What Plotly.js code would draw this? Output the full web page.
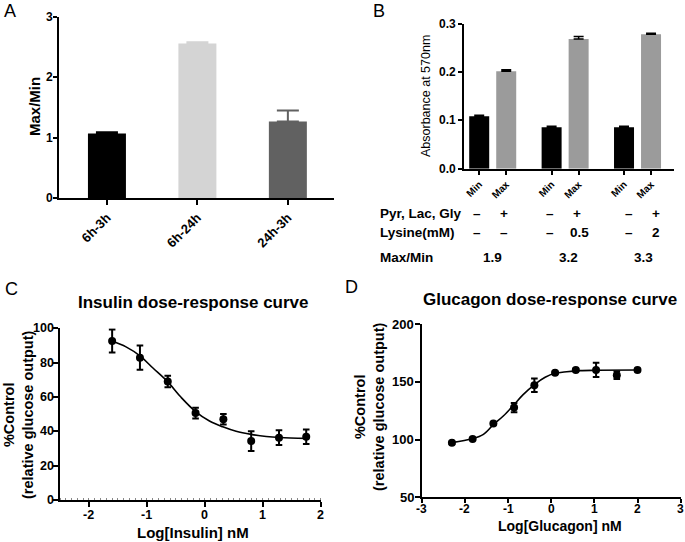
<!DOCTYPE html>
<html>
<head>
<meta charset="utf-8">
<script src="https://cdn.plot.ly/plotly-3.0.1.min.js"></script>
<style>
  html, body { margin: 0; padding: 0; background: #fff; }
  #chart { width: 685px; height: 542px; }
</style>
</head>
<body>
<div id="chart"></div>
<script>
// panel A: Max/Min ratio per time pair
var groupsA = ['6h-3h', '6h-24h', '24h-3h'];
var ratioA = [1.07, 2.56, 1.27];
var ratioErrA = [0.02, 0.02, 0.18];
var colorsA = ['#000000', '#d4d4d4', '#616161'];

// panel B: absorbance at 570nm, Min / Max per condition
var barLabelsB = ['Min', 'Max'];
var minAbs = [0.109, 0.086, 0.086];
var minErr = [0.002, 0.002, 0.002];
var maxAbs = [0.202, 0.269, 0.279];
var maxErr = [0.003, 0.005, 0.002];

// table under panel B
var rowLabels = ['Pyr, Lac, Gly', 'Lysine(mM)', 'Max/Min'];
var pyrRow = ['–', '+', '–', '+', '–', '+'];
var lysRow = ['–', '–', '–', '0.5', '–', '2'];
var ratioRow = ['1.9', '3.2', '3.3'];

// panel C: insulin dose-response
var insulinX = [-1.6, -1.12, -0.64, -0.16, 0.32, 0.8, 1.28, 1.75];
var insulinY = [92.6, 82.9, 69.0, 50.6, 47.0, 34.3, 36.3, 36.8];
var insulinErr = [6.7, 7.1, 3.4, 3.1, 3.1, 5.8, 4.3, 4.2];
var insulinFitX = [-1.6, -1.36, -1.12, -0.9, -0.64, -0.41, -0.16, 0.08, 0.31, 0.54, 0.8, 1.06, 1.3, 1.76];
var insulinFitY = [92.6, 89.2, 84.0, 77.0, 68.8, 59.8, 51.5, 46.0, 42.6, 40.0, 38.2, 37.0, 36.4, 35.9];

// panel D: glucagon dose-response
var glucagonX = [-2.3, -1.82, -1.34, -0.86, -0.39, 0.09, 0.57, 1.04, 1.52, 2.0];
var glucagonY = [97.2, 100.6, 114.0, 127.8, 147.2, 157.9, 160.4, 160.4, 155.8, 160.4];
var glucagonErr = [1, 1, 1, 4, 5.8, 1, 1, 6.2, 3.2, 1];
var glucagonFitX = [-2.3, -1.83, -1.57, -1.34, -1.11, -0.88, -0.65, -0.38, -0.14, 0.09, 0.36, 0.67, 1.05, 2.0];
var glucagonFitY = [97.4, 100.8, 104.6, 113.0, 120.5, 129.5, 139.0, 148.0, 154.1, 157.5, 158.9, 159.8, 160.1, 160.4];

// tick values shown on each axis
var ticksA = [0, 1, 2, 3];
var ticksB = [0, 0.1, 0.2, 0.3];
var ticksCx = [-2, -1, 0, 1, 2];
var ticksCy = [0, 20, 40, 60, 80, 100];
var ticksDx = [-3, -2, -1, 0, 1, 2, 3];
var ticksDy = [50, 100, 150, 200];

var W = 685, H = 542;
var FONT = 'Liberation Sans, Arial, Helvetica, sans-serif';

function px(x) { return x / W; }
function py(y) { return 1 - y / H; }
function bold(list) {
    return list.map(function(v) { return '<b>' + v + '</b>'; });
}

function axis(dom, range, extra) {
    var a = {
        domain: dom,
        range: range,
        showline: true,
        linecolor: '#000',
        linewidth: 2,
        ticks: 'outside',
        ticklen: 5,
        tickwidth: 2,
        tickcolor: '#000',
        showgrid: false,
        zeroline: false,
        fixedrange: true,
        showticklabels: false
    };
    return Object.assign(a, extra);
}

var data = [];

// A bars
groupsA.forEach(function(g, i) {
    data.push({
        type: 'bar', xaxis: 'x', yaxis: 'y',
        x: [g], y: [ratioA[i]], width: 0.42,
        marker: { color: colorsA[i] },
        error_y: { type: 'data', symmetric: false, array: [ratioErrA[i]], arrayminus: [0],
                   color: colorsA[i], thickness: 2, width: 11 }
    });
});

// B bars, pairs inside groups
var groupStep = 2.68;
var minPos = [], maxPos = [], tickPos = [], tickTxt = [];
for (var g = 0; g < minAbs.length; g++) {
    minPos.push(g * groupStep);
    maxPos.push(g * groupStep + 1);
    tickPos.push(g * groupStep, g * groupStep + 1);
    tickTxt.push(barLabelsB[0], barLabelsB[1]);
}
data.push({
    type: 'bar', xaxis: 'x2', yaxis: 'y2',
    x: minPos, y: minAbs, width: 0.74,
    marker: { color: '#000000' },
    error_y: { type: 'data', symmetric: false, array: minErr, arrayminus: [0, 0, 0],
               color: '#000', thickness: 1.5, width: 5 }
});
data.push({
    type: 'bar', xaxis: 'x2', yaxis: 'y2',
    x: maxPos, y: maxAbs, width: 0.74,
    marker: { color: '#9b9b9b' },
    error_y: { type: 'data', symmetric: false, array: maxErr, arrayminus: [0, 0, 0],
               color: '#000', thickness: 1.5, width: 5 }
});

// C
data.push({
    type: 'scatter', mode: 'lines', xaxis: 'x3', yaxis: 'y3',
    x: insulinFitX, y: insulinFitY,
    line: { color: '#000', width: 1.6, shape: 'spline' }
});
data.push({
    type: 'scatter', mode: 'markers', xaxis: 'x3', yaxis: 'y3',
    x: insulinX, y: insulinY,
    marker: { color: '#000', size: 8 },
    error_y: { type: 'data', array: insulinErr, color: '#000', thickness: 2, width: 3.3 }
});

// D
data.push({
    type: 'scatter', mode: 'lines', xaxis: 'x4', yaxis: 'y4',
    x: glucagonFitX, y: glucagonFitY,
    line: { color: '#000', width: 1.6, shape: 'spline' }
});
data.push({
    type: 'scatter', mode: 'markers', xaxis: 'x4', yaxis: 'y4',
    x: glucagonX, y: glucagonY,
    marker: { color: '#000', size: 8 },
    error_y: { type: 'data', array: glucagonErr, color: '#000', thickness: 2, width: 3.3 }
});

function note(text, x, y, size, opts) {
    return Object.assign({
        text: text, xref: 'paper', yref: 'paper',
        x: px(x), y: py(y), xanchor: 'center', yanchor: 'middle',
        showarrow: false,
        font: { family: FONT, size: size, color: '#000', weight: 'bold' }
    }, opts || {});
}

var letterFont = { family: FONT, size: 18, color: '#000' };
var annotations = [
    note('A', 2, 11, 18, { xanchor: 'left', font: letterFont }),
    note('B', 371, 11, 18, { xanchor: 'left', font: letterFont }),
    note('C', 3, 289, 18, { xanchor: 'left', font: letterFont }),
    note('D', 343, 287, 18, { xanchor: 'left', font: letterFont }),
    note('Max/Min', 34, 107, 15, { textangle: -90 }),
    note('Absorbance at 570nm', 426, 96, 12.5, { textangle: -90, font: { family: FONT, size: 12.5, color: '#000' } }),
    note('Insulin dose-response curve', 193, 302, 17),
    note('Glucagon dose-response curve', 550, 299, 17),
    note('%Control<br>(relative glucose output)', 18, 415, 14.5, { textangle: -90 }),
    note('%Control<br>(relative glucose output)', 369, 407, 14.5, { textangle: -90 }),
    note('Log[Insulin] nM', 193, 532, 15),
    note('Log[Glucagon] nM', 560, 526, 14, { borderpad: 0 })
];

// numeric tick labels, placed on the axes' own scales
function yLabels(vals, yref, rightPx, size, dec) {
    vals.forEach(function(v) {
        annotations.push({
            text: '<b>' + (dec ? v.toFixed(dec) : v) + '</b>', xref: 'paper', yref: yref,
            x: px(rightPx), y: v, xanchor: 'right', yanchor: 'middle', showarrow: false,
            font: { family: FONT, size: size, color: '#000' }
        });
    });
}
function xLabels(vals, xref, yPx, size) {
    vals.forEach(function(v) {
        annotations.push({
            text: '<b>' + v + '</b>', xref: xref, yref: 'paper',
            x: v, y: py(yPx), xanchor: 'center', yanchor: 'middle', showarrow: false,
            borderpad: 0,
            font: { family: FONT, size: size, color: '#000' }
        });
    });
}
yLabels(ticksA, 'y', 55, 12);
yLabels(ticksB, 'y2', 458, 12, 1);
yLabels(ticksCy, 'y3', 55.5, 12.5);
xLabels(ticksCx, 'x3', 515, 12.5);
yLabels(ticksDy, 'y4', 416, 13);
xLabels(ticksDx, 'x4', 509, 12);

// table rows under B
var rowY = [213, 232, 257];
rowLabels.forEach(function(lab, r) {
    annotations.push(note(lab, 378, rowY[r], 13.5, { xanchor: 'left' }));
});
[pyrRow, lysRow].forEach(function(row, r) {
    row.forEach(function(t, i) {
        annotations.push({
            text: t, xref: 'x2', yref: 'paper', x: tickPos[i], y: py(rowY[r]),
            xshift: (i >= 4 ? 5 : -2) + (t === '0.5' ? 3 : 0),
            xanchor: 'center', yanchor: 'middle', showarrow: false,
            font: { family: FONT, size: 13.5, color: '#000', weight: 'bold' }
        });
    });
});
ratioRow.forEach(function(t, g) {
    annotations.push({
        text: t, xref: 'x2', yref: 'paper', x: g * groupStep + 0.5, y: py(rowY[2]),
        xshift: g * 3,
        xanchor: 'center', yanchor: 'middle', showarrow: false,
        font: { family: FONT, size: 13.5, color: '#000', weight: 'bold' }
    });
});

var layout = {
    width: W, height: H,
    margin: { l: 0, r: 0, t: 0, b: 0 },
    paper_bgcolor: '#fff', plot_bgcolor: 'rgba(0,0,0,0)',
    showlegend: false,
    barmode: 'overlay',
    xaxis: axis([px(59), px(334)], [-0.53, 2.51], {
        anchor: 'y', type: 'category', categoryarray: groupsA, showticklabels: true,
        tickvals: groupsA, ticktext: bold(groupsA), tickangle: -45,
        tickfont: { family: FONT, size: 13, color: '#000' }
    }),
    yaxis: axis([py(198), py(17)], [0, 3], { anchor: 'x', tickvals: ticksA, ticklen: 4 }),
    xaxis2: axis([px(464), px(674)], [-0.563, 7.21], {
        anchor: 'y2', showticklabels: true,
        tickvals: tickPos, ticktext: bold(tickTxt), tickangle: -45, ticklen: 4,
        tickfont: { family: FONT, size: 10, color: '#000' }
    }),
    yaxis2: axis([py(168.7), py(24)], [0, 0.3], { anchor: 'x2', tickvals: ticksB, ticklen: 4 }),
    xaxis3: axis([px(60), px(320.7)], [-2.5, 2], {
        anchor: 'y3', tickvals: ticksCx,
        minor: { dtick: 0.1, ticks: 'inside', ticklen: 2, tickwidth: 1, tickcolor: '#888' }
    }),
    yaxis3: axis([py(500), py(328.3)], [0, 100], { anchor: 'x3', tickvals: ticksCy }),
    xaxis4: axis([px(421.7), px(680.7)], [-3, 3], { anchor: 'y4', tickvals: ticksDx, ticklen: 4 }),
    yaxis4: axis([py(497.3), py(324.3)], [50, 200], { anchor: 'x4', tickvals: ticksDy }),
    annotations: annotations
};

Plotly.newPlot('chart', data, layout, { displayModeBar: false, staticPlot: true });
</script>
</body>
</html>
